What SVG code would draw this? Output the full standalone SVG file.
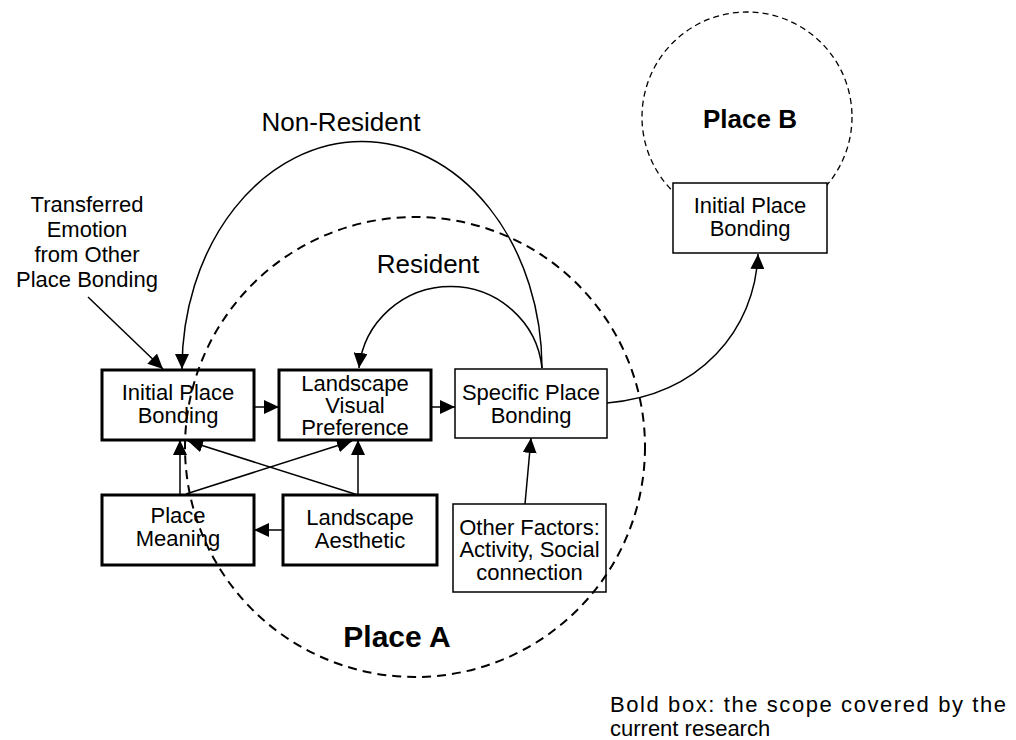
<svg xmlns="http://www.w3.org/2000/svg" width="1016" height="740" viewBox="0 0 1016 740">
<style>
text{font-family:"Liberation Sans",Arial,sans-serif;fill:#000}
.t{font-size:22px;text-anchor:middle}
.lbl{font-size:26px;text-anchor:middle}
.bold{stroke:#000;stroke-width:3;fill:#fff}
.thin{stroke:#000;stroke-width:1.5;fill:#fff}
.conn path{fill:none;stroke:#000;stroke-width:1.5;marker-end:url(#ah)}
</style>
<defs>
<marker id="ah" markerUnits="userSpaceOnUse" viewBox="0 0 15 14" markerWidth="15" markerHeight="14" refX="15" refY="7" orient="auto">
<path d="M0,0 L15,7 L0,14 z" fill="#000"/>
</marker>
</defs>
<rect width="1016" height="740" fill="#fff"/>

<g id="placeB">
<circle cx="747" cy="117" r="105" fill="none" stroke="#000" stroke-width="1.3" stroke-dasharray="6 4"/>
<text x="750" y="128" font-size="26" font-weight="bold" text-anchor="middle">Place B</text>
</g>
<g id="ipbB">
<rect x="673" y="183" width="154" height="70" class="thin"/>
<text class="t" x="750" y="213">Initial Place</text>
<text class="t" x="750" y="236">Bonding</text>
</g>

<g id="transferred">
<text class="t" x="87" y="212">Transferred</text>
<text class="t" x="87" y="237">Emotion</text>
<text class="t" x="87" y="262">from Other</text>
<text class="t" x="87" y="287">Place Bonding</text>
</g>
<text class="lbl" x="341" y="131">Non-Resident</text>
<text class="lbl" x="428" y="273">Resident</text>

<g class="conn" id="connectors">
<path d="M88,297 L163,369"/>
<path d="M542,368 A180,227 0 0 0 182,369"/>
<path d="M542,368 A92,91 0 0 0 359,368"/>
<path d="M254,407 L279,407"/>
<path d="M431,407 L455,407"/>
<path d="M180,495 L180,440"/>
<path d="M186,494 L352,441"/>
<path d="M358,495 L188,441"/>
<path d="M358,495 L358,440"/>
<path d="M283,530 L254,530"/>
<path d="M525,504 L531,438"/>
<path d="M607,403 C700,395 755,330 758,254"/>
</g>

<g id="ipbA">
<rect x="102" y="370" width="152" height="70" class="bold"/>
<text class="t" x="178" y="400">Initial Place</text>
<text class="t" x="178" y="423">Bonding</text>
</g>
<g id="lvp">
<rect x="279" y="370" width="152" height="70" class="bold"/>
<text class="t" x="355" y="391">Landscape</text>
<text class="t" x="355" y="413">Visual</text>
<text class="t" x="355" y="435">Preference</text>
</g>
<g id="spb">
<rect x="455" y="369" width="152" height="69" class="thin"/>
<text class="t" x="531" y="400">Specific Place</text>
<text class="t" x="531" y="423">Bonding</text>
</g>
<g id="pm">
<rect x="102" y="495" width="152" height="70" class="bold"/>
<text class="t" x="178" y="523">Place</text>
<text class="t" x="178" y="546">Meaning</text>
</g>
<g id="la">
<rect x="283" y="495" width="154" height="70" class="bold"/>
<text class="t" x="360" y="525">Landscape</text>
<text class="t" x="360" y="548">Aesthetic</text>
</g>
<g id="of">
<rect x="453" y="504" width="153" height="88" class="thin"/>
<text class="t" x="529.5" y="535">Other Factors:</text>
<text class="t" x="529.5" y="557">Activity, Social</text>
<text class="t" x="529.5" y="580">connection</text>
</g>

<g id="placeA">
<circle cx="415" cy="447" r="230" fill="none" stroke="#000" stroke-width="2" stroke-dasharray="9 6"/>
<text x="397" y="647" font-size="30" font-weight="bold" text-anchor="middle">Place A</text>
</g>

<g id="note">
<text x="610" y="712" font-size="22" textLength="396" lengthAdjust="spacing">Bold box: the scope covered by the</text>
<text x="610" y="736" font-size="22">current research</text>
</g>
</svg>
